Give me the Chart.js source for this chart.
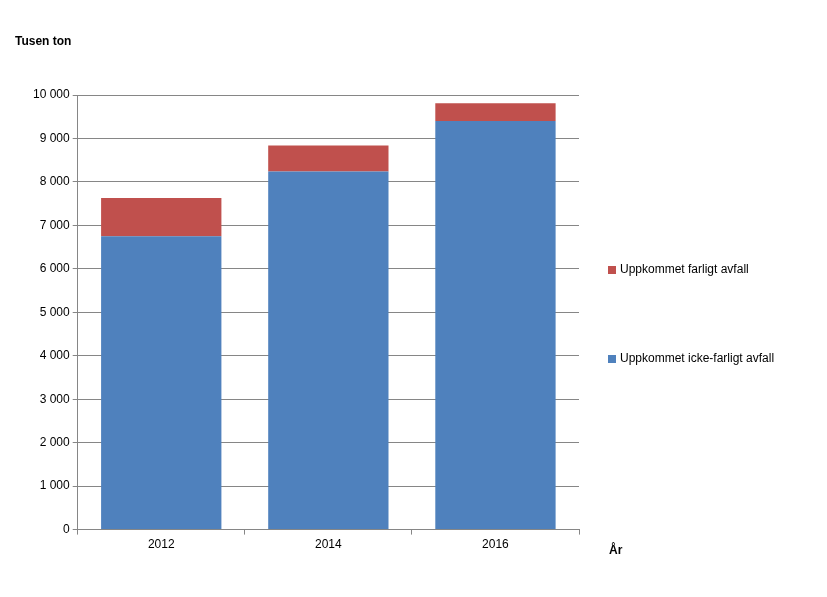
<!DOCTYPE html>
<html>
<head>
<meta charset="utf-8">
<script src="https://cdn.jsdelivr.net/npm/chart.js@4/dist/chart.umd.min.js"></script>
<style>
  body { margin: 0; background: #fff; }
</style>
</head>
<body>
<canvas id="myChart" width="827" height="597"></canvas>
<script>
var years = ['2012', '2014', '2016'];
var ickeFarligt = [6750, 8240, 9400];
var farligt = [880, 600, 410];
var seriesNames = ['Uppkommet icke-farligt avfall', 'Uppkommet farligt avfall'];

function fmt(v) {
  return String(v).replace(/\B(?=(\d{3})+(?!\d))/g, ' ');
}

var extraText = {
  id: 'extraText',
  afterDraw: function(chart) {
    var c = chart.ctx;
    c.save();
    c.fillStyle = '#000';
    c.font = 'bold 12px "Liberation Sans", Arial, sans-serif';
    c.textBaseline = 'middle';
    c.fillText('Tusen ton', 15, 42);
    c.fillText('År', 609, 551);
    // legend, red first then blue
    var items = [
      { text: seriesNames[1], color: chart.data.datasets[1].backgroundColor, y: 270 },
      { text: seriesNames[0], color: chart.data.datasets[0].backgroundColor, y: 359 }
    ];
    c.font = '12px "Liberation Sans", Arial, sans-serif';
    items.forEach(function(it) {
      c.fillStyle = it.color;
      c.fillRect(608, it.y - 4, 8, 8);
      c.fillStyle = '#000';
      c.fillText(it.text, 620, it.y);
    });
    c.restore();
  }
};

new Chart(document.getElementById('myChart'), {
  type: 'bar',
  data: {
    labels: years,
    datasets: [
      { label: seriesNames[0], data: ickeFarligt, backgroundColor: '#4f81bd' },
      { label: seriesNames[1], data: farligt, backgroundColor: '#c0504d' }
    ]
  },
  plugins: [extraText],
  options: {
    responsive: false,
    animation: false,
    devicePixelRatio: 1,
    layout: { padding: { top: 95, left: 30, right: 248, bottom: 42 } },
    plugins: { legend: { display: false }, tooltip: { enabled: false } },
    scales: {
      x: {
        stacked: true,
        categoryPercentage: 1,
        barPercentage: 0.4,
        grid: { offset: true, drawOnChartArea: false, color: '#868686', tickLength: 5 },
        border: { color: '#868686' },
        ticks: { color: '#000', font: { size: 12, family: 'Liberation Sans' } }
      },
      y: {
        stacked: true,
        min: 0,
        max: 10000,
        grid: { color: '#868686', tickLength: 5 },
        border: { color: '#868686' },
        ticks: {
          stepSize: 1000,
          color: '#000',
          font: { size: 12, family: 'Liberation Sans' },
          callback: function(v) { return fmt(v); }
        }
      }
    }
  }
});
</script>
</body>
</html>
